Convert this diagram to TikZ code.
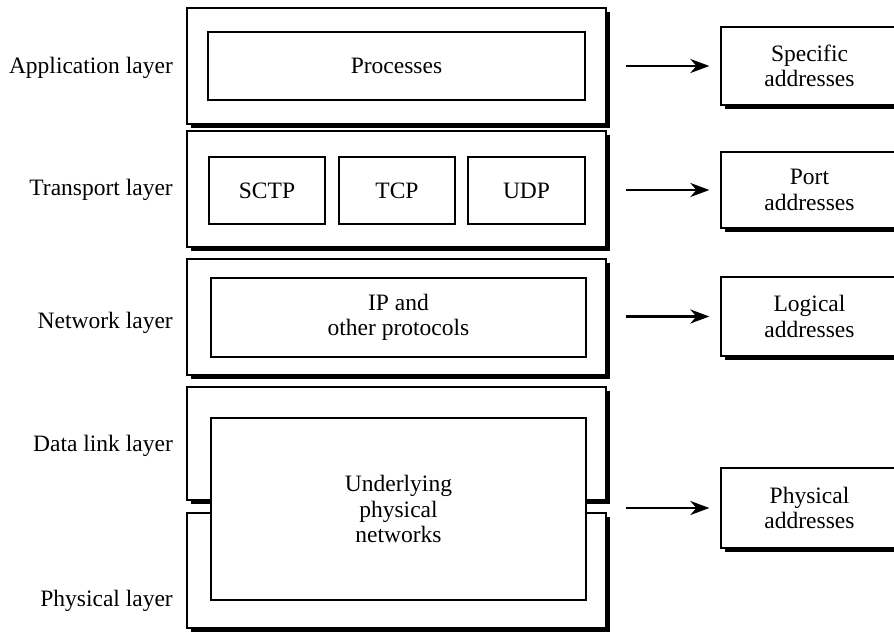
\documentclass[tikz,border=0pt]{standalone}
\usepackage{fontspec}
\setmainfont{Liberation Serif}
\usetikzlibrary{arrows.meta,shadows}
\begin{document}
\begin{tikzpicture}[x=1pt,y=-1pt,
  font=\fontsize{23.5}{25.5}\selectfont,
  box/.style={draw, line width=1.3pt, fill=white, inner sep=0pt, align=center},
  shadowed/.style={drop shadow={shadow xshift=3.5pt, shadow yshift=-3.5pt, fill=black, opacity=1}},
  layerbox/.style={box, shadowed, minimum width=419pt},
  addrbox/.style={box, shadowed, minimum width=177pt},
  layerlabel/.style={anchor=east, inner sep=0pt},
  arr/.style={line width=2.6pt, -{Stealth[length=19pt, width=14pt, inset=6pt]},
              shorten <=19pt, shorten >=11pt}]
\useasboundingbox (0,0) rectangle (894,632);
\clip (0,0) rectangle (894,632);

% layer labels
\node[layerlabel] (lapp)  at (173,68)  {Application layer};
\node[layerlabel] (ltrn)  at (173,190) {Transport layer};
\node[layerlabel] (lnet)  at (173,323) {Network layer};
\node[layerlabel] (ldl)   at (173,446) {Data link layer};
\node[layerlabel] (lphy)  at (173,601) {Physical layer};

% layer frames
\node[layerbox, minimum height=116pt] (app) at (396.5,66)    {};
\node[layerbox, minimum height=116pt] (trn) at (396.5,189)   {};
\node[layerbox, minimum height=116pt] (net) at (396.5,317)   {};
\node[layerbox, minimum height=113pt] (dl)  at (396.5,443.5) {};
\node[layerbox, minimum height=115pt] (phy) at (396.5,570.5) {};

% protocols inside the layers
\node[box, minimum width=377pt, minimum height=68pt]  (proc) at (396.5,66)  {Processes};
\node[box, minimum width=116pt, minimum height=67pt]  (sctp) at (267,190.5) {SCTP};
\node[box, minimum width=116pt, minimum height=67pt]  (tcp)  at (397,190.5) {TCP};
\node[box, minimum width=117pt, minimum height=67pt]  (udp)  at (526.5,190.5) {UDP};
\node[box, minimum width=375pt, minimum height=79pt]  (ip)   at (398.5,317.5) {IP and\\other protocols};
\node[box, minimum width=375pt, minimum height=182pt] (under) at (398.5,509) {Underlying\\physical\\networks};

% addresses
\node[addrbox, minimum height=78pt] (spec) at (809.5,66)    {Specific\\addresses};
\node[addrbox, minimum height=76pt] (port) at (809.5,190)   {Port\\addresses};
\node[addrbox, minimum height=79pt] (logi) at (809.5,316.5) {Logical\\addresses};
\node[addrbox, minimum height=80pt] (phad) at (809.5,508)   {Physical\\addresses};

% arrows from layers to addresses
\draw[arr] (spec.west -| app.east) -- (spec.west);
\draw[arr] (port.west -| trn.east) -- (port.west);
\draw[arr] (logi.west -| net.east) -- (logi.west);
\draw[arr] (phad.west -| dl.east)  -- (phad.west);
\end{tikzpicture}
\end{document}
